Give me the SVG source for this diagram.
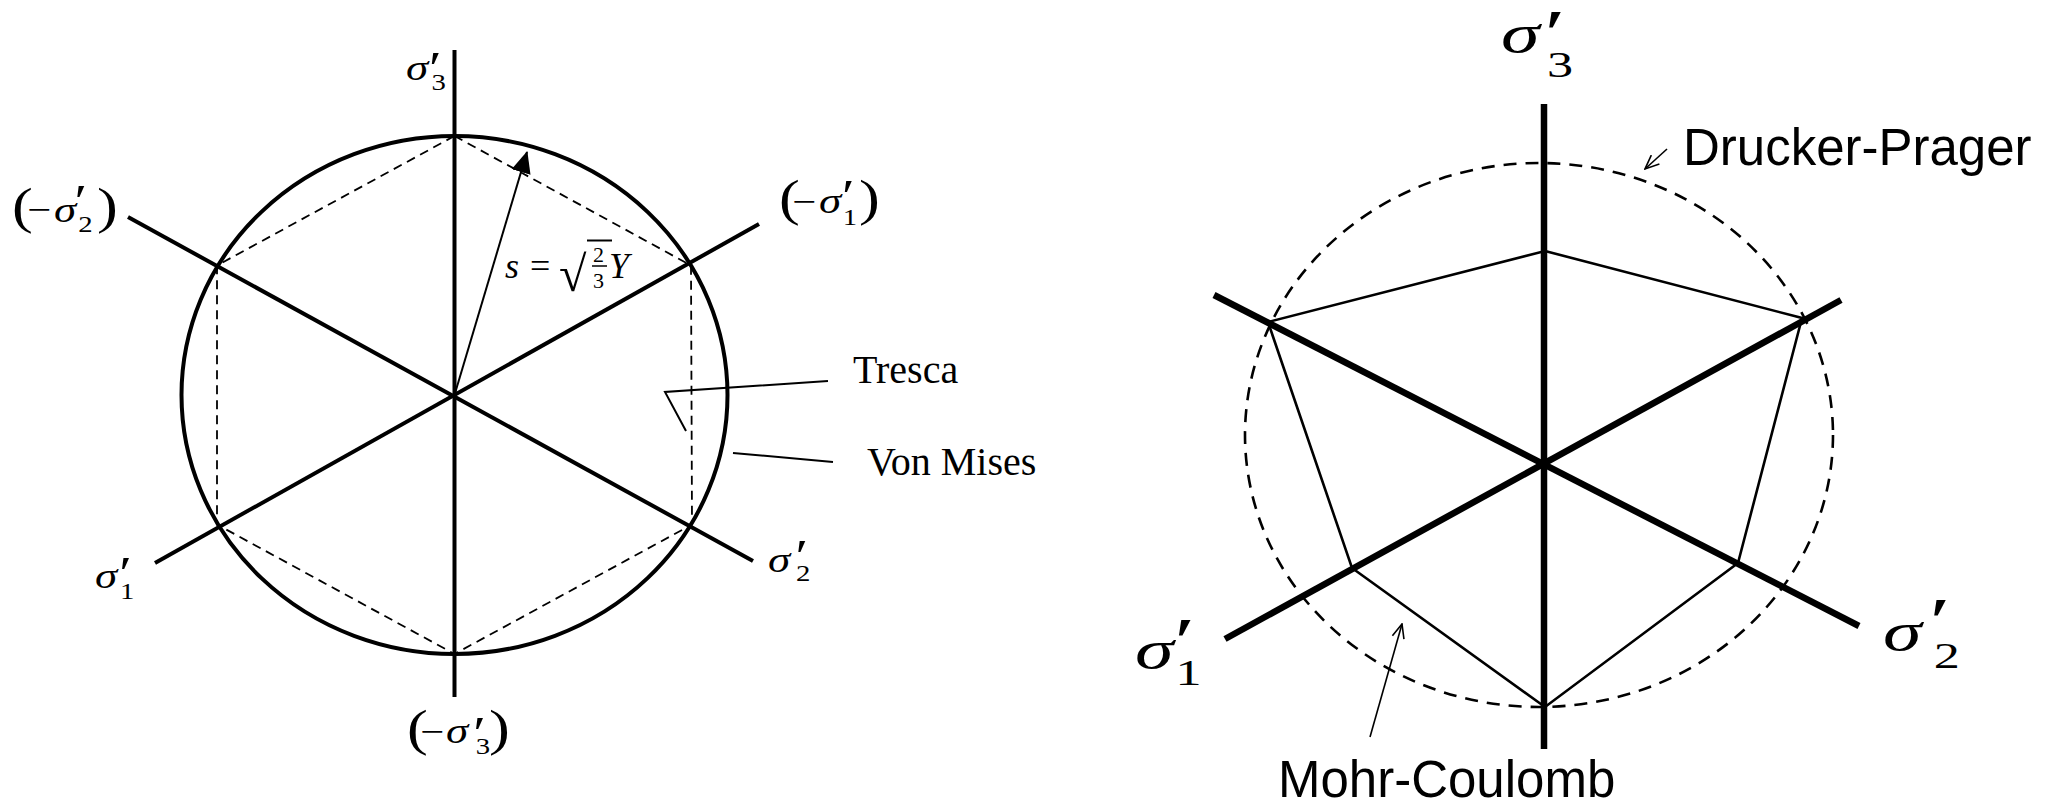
<svg xmlns="http://www.w3.org/2000/svg" width="2058" height="805" viewBox="0 0 2058 805">
<style>
.bg{fill:#fff}
.axL{stroke:#000;stroke-width:4;fill:none;stroke-linecap:butt}
.axR{stroke:#000;stroke-width:6.5;fill:none}
.vm{stroke:#000;stroke-width:4;fill:none}
.tr{stroke:#000;stroke-width:1.8;fill:none;stroke-dasharray:9 6}
.dp{stroke:#000;stroke-width:2.6;fill:none;stroke-dasharray:13 9}
.mc{stroke:#000;stroke-width:2.6;fill:none;stroke-linejoin:miter}
.ld{stroke:#000;stroke-width:2;fill:none}
.ser{font-family:"Liberation Serif","Times New Roman",serif;fill:#000}
.it{font-style:italic}
.sgL{font-size:36px}
.subL{font-size:23px}
.prL{font-size:46px}
.parL{font-size:50px}
.mnL{font-size:34px}
.sgR{font-size:54px}
.subR{font-size:36px}
.prR{font-size:66px}
.lbl{font-family:"Liberation Serif","Times New Roman",serif;font-size:40px;fill:#000}
.sans{font-family:"Liberation Sans",Arial,sans-serif;font-size:51px;fill:#000}
</style>
<defs>
<marker id="filled" markerUnits="userSpaceOnUse" markerWidth="22" markerHeight="20" viewBox="0 0 20 18" refX="19" refY="9" orient="auto">
<path d="M0,0 L20,9 L0,18 z" fill="#000"/>
</marker>
<marker id="open" markerUnits="userSpaceOnUse" markerWidth="16" markerHeight="14" viewBox="0 0 16 14" refX="15" refY="7" orient="auto">
<path d="M1,1 L15,7 L1,13" fill="none" stroke="#000" stroke-width="1.6"/>
</marker>
</defs>
<rect class="bg" x="0" y="0" width="2058" height="805"/>

<!-- LEFT DIAGRAM -->
<g id="left-axes">
<line class="axL" x1="454.5" y1="50" x2="454.5" y2="697"/>
<line class="axL" x1="155" y1="563" x2="759" y2="224"/>
<line class="axL" x1="128" y1="217" x2="753" y2="561"/>
</g>
<g id="von-mises">
<ellipse class="vm" cx="454.5" cy="395" rx="273" ry="259"/>
</g>
<g id="tresca">
<polygon class="tr" points="454.5,136 691,265.5 692,524.5 454.5,654 217,524.5 217,265.5"/>
</g>
<g id="left-labels">
<g id="lbl-s3-top">
<text class="ser" transform="translate(406,80) scale(1.25,1)"><tspan class="it sgL" x="0" y="0">σ</tspan><tspan class="prL" x="18.5" y="4">′</tspan><tspan class="subL" x="20.5" y="10">3</tspan></text>
</g>
<g id="lbl-neg-s2">
<text class="ser" transform="translate(12,222) scale(1.25,1)"><tspan class="parL" x="0" y="1">(</tspan><tspan class="mnL" x="12" y="-1">−</tspan><tspan class="it sgL" x="33.6" y="0">σ</tspan><tspan class="prL" x="50" y="-5">′</tspan><tspan class="subL" x="53" y="10">2</tspan><tspan class="parL" x="68" y="1">)</tspan></text>
</g>
<g id="lbl-neg-s1">
<text class="ser" transform="translate(779,213) scale(1.25,1)"><tspan class="parL" x="0" y="2">(</tspan><tspan class="mnL" x="10.4" y="0">−</tspan><tspan class="it sgL" x="32" y="0">σ</tspan><tspan class="prL" x="50.5" y="-1">′</tspan><tspan class="subL" x="51" y="12">1</tspan><tspan class="parL" x="64" y="2">)</tspan></text>
</g>
<g id="lbl-s1">
<text class="ser" transform="translate(95,588) scale(1.25,1)"><tspan class="it sgL" x="0" y="0">σ</tspan><tspan class="prL" x="19.5" y="1">′</tspan><tspan class="subL" x="20" y="11">1</tspan></text>
</g>
<g id="lbl-s2">
<text class="ser" transform="translate(768,572) scale(1.25,1)"><tspan class="it sgL" x="0" y="0">σ</tspan><tspan class="prL" x="22" y="0">′</tspan><tspan class="subL" x="22.4" y="9">2</tspan></text>
</g>
<g id="lbl-neg-s3">
<text class="ser" transform="translate(407,743) scale(1.25,1)"><tspan class="parL" x="0" y="2">(</tspan><tspan class="mnL" x="10.4" y="0">−</tspan><tspan class="it sgL" x="31.2" y="0">σ</tspan><tspan class="prL" x="53" y="6">′</tspan><tspan class="subL" x="55" y="11">3</tspan><tspan class="parL" x="65.6" y="2">)</tspan></text>
</g>
<g id="formula">
<text class="ser it" x="505" y="278" style="font-size:36px">s</text>
<text class="ser" x="530" y="278" style="font-size:36px">=</text>
<text class="ser" x="559" y="291" style="font-size:50px">√</text>
<line x1="587" y1="240.5" x2="612" y2="240.5" stroke="#000" stroke-width="2"/>
<text class="ser" x="593" y="262" style="font-size:22px">2</text>
<line x1="592" y1="266" x2="607" y2="266" stroke="#000" stroke-width="1.5"/>
<text class="ser" x="593" y="288" style="font-size:22px">3</text>
<text class="ser it" x="609" y="278" style="font-size:36px">Y</text>
</g>
<g id="lbl-tresca"><text class="lbl" x="853" y="383">Tresca</text></g>
<g id="lbl-vonmises"><text class="lbl" x="867" y="475">Von Mises</text></g>
</g>

<!-- RIGHT DIAGRAM -->
<g id="right-axes">
<line class="axR" x1="1544" y1="104" x2="1544" y2="749"/>
<line class="axR" x1="1214" y1="295" x2="1859" y2="626"/>
<line class="axR" x1="1841" y1="300" x2="1225" y2="639"/>
</g>
<g id="drucker-prager">
<ellipse class="dp" cx="1539" cy="435" rx="294" ry="272"/>
</g>
<g id="mohr-coulomb">
<polygon class="mc" points="1545,251 1802,318 1738,563 1545,707 1352,568 1268,322"/>
</g>
<g id="right-labels">
<g id="lbl-r-s3">
<text class="ser" transform="translate(1501,52) scale(1.45,1)"><tspan class="it sgR" x="0" y="0">σ</tspan><tspan class="prR" x="30" y="3">′</tspan><tspan class="subR" x="31.7" y="25">3</tspan></text>
</g>
<g id="lbl-r-s1">
<text class="ser" transform="translate(1135,668) scale(1.45,1)"><tspan class="it sgR" x="0" y="0">σ</tspan><tspan class="prR" x="27" y="-5">′</tspan><tspan class="subR" x="28" y="17">1</tspan></text>
</g>
<g id="lbl-r-s2">
<text class="ser" transform="translate(1883,650) scale(1.45,1)"><tspan class="it sgR" x="0" y="0">σ</tspan><tspan class="prR" x="32" y="-7">′</tspan><tspan class="subR" x="35" y="18">2</tspan></text>
</g>
<g id="lbl-dp"><text class="sans" x="1683" y="165">Drucker-Prager</text></g>
<g id="lbl-mc"><text class="sans" x="1278" y="797">Mohr-Coulomb</text></g>
</g>

<g id="connectors">
<line class="ld" x1="454.5" y1="395" x2="527" y2="152" marker-end="url(#filled)"/>
<polyline class="ld" points="828,381 665,392 686,431"/>
<line class="ld" x1="833" y1="462" x2="733" y2="453"/>
<line stroke="#000" stroke-width="1.6" x1="1667" y1="149" x2="1645" y2="169" marker-end="url(#open)"/>
<line stroke="#000" stroke-width="1.6" x1="1370" y1="737" x2="1402" y2="624" marker-end="url(#open)"/>
</g>
</svg>
